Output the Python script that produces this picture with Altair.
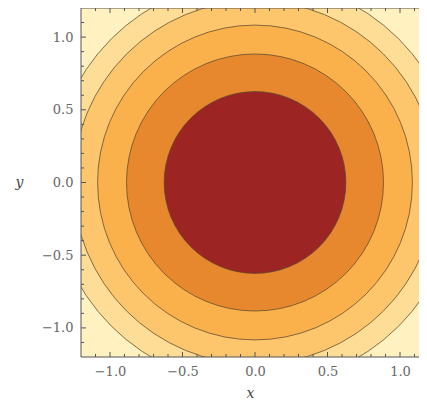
import math
import altair as alt
import pandas as pd

# contour radii (levels of x^2+y^2 = 2.5, 2.0, 1.5, 1.0, 0.5) and band colours
radii = [1.581, 1.414, 1.225, 1.0, 0.707]
band_colors = ["#fedd96", "#fdc66d", "#fab04b", "#e7882e", "#9c2422"]
outer_color = "#fff1c0"

major_ticks = [-1.0, -0.5, 0.0, 0.5, 1.0]
minor_ticks = [-1.1, -0.9, -0.8, -0.7, -0.6, -0.4, -0.3, -0.2, -0.1,
               0.1, 0.2, 0.3, 0.4, 0.6, 0.7, 0.8, 0.9, 1.1]

x_lo, x_hi = -1.2, 1.131
y_lo, y_hi = -1.2, 1.2
W, H = 338, 349
px_per_unit = 145.0
major_len = 5 / px_per_unit
minor_len = 3 / px_per_unit

circles = pd.DataFrame({
    "cx": [0.0] * len(radii),
    "cy": [0.0] * len(radii),
    "r": radii,
    "color": band_colors,
    "rank": list(range(len(radii))),
})

def tick_table(edge, direction):
    vals = major_ticks + minor_ticks
    lens = [major_len] * len(major_ticks) + [minor_len] * len(minor_ticks)
    return pd.DataFrame({"v": vals, "a": [edge] * len(vals),
                         "b": [edge + direction * l for l in lens]})

frame_df = pd.DataFrame({"x0": [x_lo], "x1": [x_hi], "y0": [y_lo], "y1": [y_hi]})

xs = alt.Scale(domain=[x_lo, x_hi], nice=False, zero=False)
ys = alt.Scale(domain=[y_lo, y_hi], nice=False, zero=False)

label_font = "DejaVu Serif"
frame_color = "#555555"
axis_common = dict(
    grid=False, values=major_ticks, format=".1f", zindex=1,
    ticks=False, domain=False,
    labelFont=label_font, labelFontSize=13, labelColor="#666666",
    titleFont=label_font, titleFontSize=14, titleFontStyle="italic",
    titleFontWeight="normal", titleColor="#444444",
)
x_axis = alt.Axis(title="x", orient="bottom", labelPadding=8, titleX=W / 2, titleY=36,
                  titleBaseline="middle", titleAlign="center", **axis_common)
y_axis = alt.Axis(title="y", orient="left", labelPadding=8, titleAngle=0, titleX=-62,
                  titleY=H / 2, titleBaseline="middle", titleAlign="center", **axis_common)

# filled circles: symbol area grows with r^2 (area in px^2 = pi * (r * px_per_unit)^2)
discs = alt.Chart(circles).mark_point(
    shape="circle", filled=True, opacity=1, clip=True,
    stroke="#5b4a2e", strokeWidth=1, strokeOpacity=0.75
).encode(
    x=alt.X("cx:Q", scale=xs, axis=x_axis),
    y=alt.Y("cy:Q", scale=ys, axis=y_axis),
    size=alt.Size("r:Q", legend=None,
                  scale=alt.Scale(type="pow", exponent=2, domain=[0, 1],
                                  range=[0, math.pi * px_per_unit ** 2], zero=True)),
    fill=alt.Fill("color:N", scale=None),
    order=alt.Order("rank:Q"),
)

def xticks(edge, direction):
    return alt.Chart(tick_table(edge, direction)).mark_rule(
        color=frame_color, strokeWidth=1).encode(
        x=alt.X("v:Q", scale=xs, axis=None),
        y=alt.Y("a:Q", scale=ys, axis=None),
        y2="b:Q",
    )

def yticks(edge, direction):
    return alt.Chart(tick_table(edge, direction)).mark_rule(
        color=frame_color, strokeWidth=1).encode(
        y=alt.Y("v:Q", scale=ys, axis=None),
        x=alt.X("a:Q", scale=xs, axis=None),
        x2="b:Q",
    )

def hframe(ycol):
    return alt.Chart(frame_df).mark_rule(color=frame_color, strokeWidth=1).encode(
        x=alt.X("x0:Q", scale=xs, axis=None), x2="x1:Q",
        y=alt.Y(f"{ycol}:Q", scale=ys, axis=None),
    )

left_frame = alt.Chart(frame_df).mark_rule(color=frame_color, strokeWidth=1).encode(
    x=alt.X("x0:Q", scale=xs, axis=None),
    y=alt.Y("y0:Q", scale=ys, axis=None), y2="y1:Q",
)

chart = alt.layer(
    discs,
    xticks(y_lo, 1), xticks(y_hi, -1), yticks(x_lo, 1),
    hframe("y0"), hframe("y1"), left_frame,
).resolve_axis(
    x="independent", y="independent"
).properties(
    width=W, height=H,
    background="white",
    autosize=alt.AutoSizeParams(type="none"),
    padding={"left": 73, "top": 0, "right": 0, "bottom": 50},
).configure_view(
    fill=outer_color, stroke=None
)

chart.save("out.html", embed_options={"renderer": "svg", "actions": False})
